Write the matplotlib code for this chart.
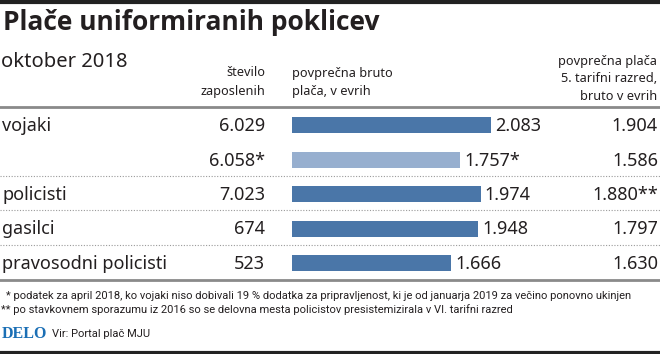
import matplotlib
matplotlib.use("Agg")
import matplotlib.pyplot as plt
from matplotlib import font_manager

# data
rows = ["vojaki", "", "policisti", "gasilci", "pravosodni policisti"]
employees = ["6.029", "6.058*", "7.023", "674", "523"]
gross_pay = [2083, 1757, 1974, 1948, 1666]
gross_labels = ["2.083", "1.757*", "1.974", "1.948", "1.666"]
grade5_pay = ["1.904", "1.586", "1.880**", "1.797", "1.630"]
highlight = [False, True, False, False, False]

title = "Plače uniformiranih poklicev"
subtitle = "oktober 2018"
notes = ["* podatek za april 2018, ko vojaki niso dobivali 19 % dodatka za pripravljenost, ki je od januarja 2019 za večino ponovno ukinjen",
         "** po stavkovnem sporazumu iz 2016 so se delovna mesta policistov presistemizirala v VI. tarifni razred"]
source = "Vir: Portal plač MJU"

DARK = "#4a76a8"
LIGHT = "#97afcf"
TXT = "#231f20"

names = {f.name for f in font_manager.fontManager.ttflist}
narrow = "Liberation Sans Narrow" if "Liberation Sans Narrow" in names else "Roboto"
plt.rcParams["font.family"] = ["Noto Sans", "DejaVu Sans"]

W, H = 660, 354
fig = plt.figure(figsize=(W / 100, H / 100), dpi=100)
ax = fig.add_axes([0, 0, 1, 1])
ax.set_xlim(0, W)
ax.set_ylim(H, 0)
ax.axis("off")

row_y = [125, 159.5, 194, 228.5, 263]

# bars in their own axes, euros on x
px_per_eur = 199 / 2083
bx0 = 292
bax = fig.add_axes([bx0 / W, 0, (W - bx0) / W, 1])
bax.set_xlim(0, (W - bx0) / px_per_eur)
bax.set_ylim(H, 0)
bax.axis("off")
bax.barh(row_y, gross_pay, height=16, color=[LIGHT if h else DARK for h in highlight])
for y, v, lab in zip(row_y, gross_pay, gross_labels):
    bax.text(v + 45, y + 1, lab, fontsize=13, color=TXT, va="center", ha="left")

# frame lines
ax.axhline(1.5, color="#222222", lw=3)
ax.axhline(352.5, color="#222222", lw=3)
ax.plot([0, W], [107, 107], color="#8a8a8a", lw=2)
ax.plot([0, W], [280, 280], color="#8a8a8a", lw=2)
for y in [176, 210, 245]:
    ax.plot([0, W], [y, y], color="#9a9a9a", lw=0.8, ls=(0, (1, 1.5)))

ax.text(3, 23, title, fontsize=19, fontweight="bold", color=TXT, va="center",
        family=["Open Sans", "DejaVu Sans"])
ax.text(1, 62, subtitle, fontsize=14.5, color=TXT, va="center")

hdr = dict(fontsize=9.2, color=TXT, va="center")
ax.text(265, 73, "število", ha="right", **hdr)
ax.text(265, 92, "zaposlenih", ha="right", **hdr)
ax.text(292, 73, "povprečna bruto", ha="left", **hdr)
ax.text(292, 92, "plača, v evrih", ha="left", **hdr)
ax.text(657, 61, "povprečna plača", ha="right", **hdr)
ax.text(657, 79, "5. tarifni razred,", ha="right", **hdr)
ax.text(657, 97, "bruto v evrih", ha="right", **hdr)

for y, name, emp, g5 in zip(row_y, rows, employees, grade5_pay):
    ax.text(2, y + 1, name, fontsize=13, color=TXT, va="center", ha="left")
    ax.text(265, y + 1, emp, fontsize=13, color=TXT, va="center", ha="right")
    ax.text(658, y + 1, g5, fontsize=13, color=TXT, va="center", ha="right")

note_font = [narrow, "DejaVu Sans"]
ax.text(6, 296, notes[0], fontsize=8.0, color=TXT, va="center", family=note_font)
ax.text(1, 310, notes[1], fontsize=8.0, color=TXT, va="center", family=note_font)

ax.text(2, 334, "DELO", fontsize=11.5, fontweight="bold", color="#1b6fb5", va="center",
        family=["Liberation Serif", "DejaVu Serif"])
ax.text(52, 334, source, fontsize=8.0, color=TXT, va="center", family=note_font)

fig.savefig("out.png", dpi=100)
